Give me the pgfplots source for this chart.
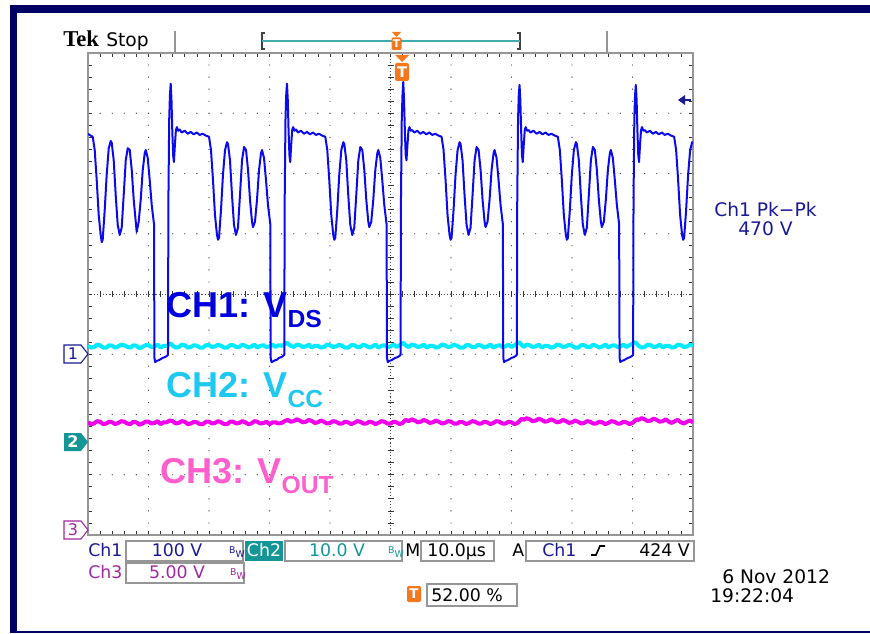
\documentclass[border=0pt]{standalone}
\usepackage{pgfplots}
\pgfplotsset{compat=1.18}
\usepackage{fontspec}
\setmainfont{DejaVu Sans}
\newfontfamily\tekfont{Liberation Serif}
\newfontfamily\arialfont{Liberation Sans}
\definecolor{navyb}{RGB}{0,0,100}
\definecolor{tekblue}{RGB}{25,25,150}
\definecolor{chone}{RGB}{10,10,235}
\definecolor{chtwo}{RGB}{0,235,255}
\definecolor{chthree}{RGB}{240,0,235}
\definecolor{lblone}{RGB}{0,0,220}
\definecolor{lbltwo}{RGB}{30,200,240}
\definecolor{lblthree}{RGB}{255,95,205}
\definecolor{tekteal}{RGB}{20,150,150}
\definecolor{tekpurple}{RGB}{160,40,160}
\definecolor{tekorange}{RGB}{245,120,30}
\definecolor{gratgray}{RGB}{150,150,150}
\begin{document}
\begin{tikzpicture}
\begin{scope}[x=0.75pt,y=-0.75pt]
\path[use as bounding box] (0,0) rectangle (870,634);
% outer frame
\fill[navyb] (10,5) rectangle (870,13);
\fill[navyb] (10,5) rectangle (17,633);
\fill[navyb] (10,631) rectangle (870,633);
% graticule dotted grid
\foreach \i in {1,2,3,4,6,7,8,9} {
  \foreach \j in {1,...,39} {
    \fill[black!70] ({88+60.5*\i},{53+12.05*\j}) circle (0.5pt);
  }
}
\foreach \i in {1,2,3,5,6,7} {
  \foreach \j in {1,...,49} {
    \fill[black!70] ({88+12.1*\j},{53+60.25*\i}) circle (0.5pt);
  }
}
% centre lines
\draw[black!70, line width=0.6pt, dash pattern=on 0.8pt off 1.5pt] (88,294)--(693,294);
\draw[black!70, line width=0.6pt, dash pattern=on 0.8pt off 1.5pt] (390.5,53)--(390.5,535);
\foreach \j in {1,...,49} {
  \draw[black!80, line width=0.6pt] ({88+12.1*\j},291)--({88+12.1*\j},297);
  \draw[black!80, line width=0.6pt] ({88+12.1*\j},53)--({88+12.1*\j},57);
  \draw[black!80, line width=0.6pt] ({88+12.1*\j},535)--({88+12.1*\j},531);
}
\foreach \j in {1,...,39} {
  \draw[black!80, line width=0.6pt] (387.5,{53+12.05*\j})--(393.5,{53+12.05*\j});
  \draw[black!80, line width=0.6pt] (88,{53+12.05*\j})--(92,{53+12.05*\j});
  \draw[black!80, line width=0.6pt] (693,{53+12.05*\j})--(689,{53+12.05*\j});
}
\draw[gratgray, line width=2.2pt] (88,53) rectangle (693,535);
\end{scope}

\begin{axis}[at={(66pt,-401.25pt)}, anchor=south west,
  width=453.75pt, height=361.5pt, scale only axis,
  xmin=0, xmax=100, ymin=-4, ymax=4, hide axis, clip=true]
% CH3 (V_OUT)
\addplot[chthree, line width=3pt, line join=round] coordinates {
(0,-2.13)(0.5,-2.16)(1,-2.15)(1.5,-2.11)(2,-2.12)(2.5,-2.16)(3,-2.15)(3.5,-2.12)(4,-2.13)(4.5,-2.16)(5,-2.14)(5.5,-2.11)(6,-2.12)(6.5,-2.15)(7,-2.16)(7.5,-2.12)(8,-2.13)(8.5,-2.17)(9,-2.15)(9.5,-2.12)(10,-2.12)(10.5,-2.15)(11,-2.14)(11.5,-2.11)(12,-2.16)(12.5,-2.13)(13,-2.13)(13.5,-2.10)(14,-2.11)(14.5,-2.15)(15,-2.14)(15.5,-2.11)(16,-2.12)(16.5,-2.16)(17,-2.15)(17.5,-2.12)(18,-2.13)(18.5,-2.16)(19,-2.16)(19.5,-2.12)(20,-2.12)(20.5,-2.15)(21,-2.14)(21.5,-2.11)(22,-2.13)(22.5,-2.16)(23,-2.16)(23.5,-2.12)(24,-2.12)(24.5,-2.15)(25,-2.14)(25.5,-2.11)(26,-2.13)(26.5,-2.16)(27,-2.15)(27.5,-2.11)(28,-2.12)(28.5,-2.15)(29,-2.14)(29.5,-2.12)(30,-2.16)(30.5,-2.13)(31,-2.13)(31.5,-2.15)(32,-2.14)(32.5,-2.11)(33,-2.09)(33.5,-2.12)(34,-2.11)(34.5,-2.08)(35,-2.10)(35.5,-2.13)(36,-2.12)(36.5,-2.09)(37,-2.11)(37.5,-2.14)(38,-2.13)(38.5,-2.10)(39,-2.12)(39.5,-2.15)(40,-2.14)(40.5,-2.11)(41,-2.12)(41.5,-2.15)(42,-2.15)(42.5,-2.12)(43,-2.13)(43.5,-2.16)(44,-2.14)(44.5,-2.11)(45,-2.12)(45.5,-2.15)(46,-2.15)(46.5,-2.12)(47,-2.13)(47.5,-2.16)(48,-2.14)(48.5,-2.11)(49,-2.12)(49.5,-2.15)(50,-2.15)(50.5,-2.12)(51,-2.13)(51.5,-2.16)(52,-2.14)(52.5,-2.09)(53,-2.11)(53.5,-2.08)(54,-2.10)(54.5,-2.13)(55,-2.12)(55.5,-2.09)(56,-2.11)(56.5,-2.14)(57,-2.13)(57.5,-2.10)(58,-2.12)(58.5,-2.15)(59,-2.14)(59.5,-2.11)(60,-2.12)(60.5,-2.15)(61,-2.15)(61.5,-2.12)(62,-2.13)(62.5,-2.16)(63,-2.14)(63.5,-2.11)(64,-2.12)(64.5,-2.15)(65,-2.15)(65.5,-2.12)(66,-2.13)(66.5,-2.16)(67,-2.14)(67.5,-2.11)(68,-2.12)(68.5,-2.15)(69,-2.15)(69.5,-2.12)(70,-2.13)(70.5,-2.16)(71,-2.14)(71.7,-2.07)(72,-2.09)(72.5,-2.06)(73,-2.08)(73.5,-2.11)(74,-2.10)(74.5,-2.07)(75,-2.09)(75.5,-2.12)(76,-2.11)(76.5,-2.08)(77,-2.10)(77.5,-2.13)(78,-2.12)(78.5,-2.09)(79,-2.11)(79.5,-2.14)(80,-2.13)(80.5,-2.10)(81,-2.12)(81.5,-2.15)(82,-2.14)(82.5,-2.11)(83,-2.12)(83.5,-2.15)(84,-2.15)(84.5,-2.12)(85,-2.13)(85.5,-2.16)(86,-2.14)(86.5,-2.11)(87,-2.12)(87.5,-2.15)(88,-2.15)(88.5,-2.12)(89,-2.13)(89.5,-2.16)(90,-2.14)(90.7,-2.08)(91,-2.09)(91.5,-2.06)(92,-2.08)(92.5,-2.11)(93,-2.10)(93.5,-2.07)(94,-2.09)(94.5,-2.12)(95,-2.11)(95.5,-2.08)(96,-2.12)(96.5,-2.14)(97,-2.11)(97.5,-2.09)(98,-2.13)(98.5,-2.15)(99,-2.12)(99.5,-2.10)(100,-2.13)
};
% CH2 (V_CC)
\addplot[chtwo, line width=3pt, line join=round] coordinates {
(0,-0.86)(0.5,-0.89)(1,-0.88)(1.5,-0.84)(2,-0.85)(2.5,-0.89)(3,-0.89)(3.5,-0.85)(4,-0.86)(4.5,-0.89)(5,-0.87)(5.5,-0.84)(6,-0.85)(6.5,-0.88)(7,-0.89)(7.5,-0.85)(8,-0.86)(8.5,-0.90)(9,-0.88)(9.5,-0.85)(10,-0.85)(10.5,-0.88)(11,-0.87)(11.5,-0.84)(12,-0.89)(12.5,-0.86)(13,-0.86)(13.7,-0.82)(14,-0.86)(14.5,-0.89)(15,-0.88)(15.5,-0.84)(16,-0.85)(16.5,-0.89)(17,-0.88)(17.5,-0.85)(18,-0.86)(18.5,-0.89)(19,-0.89)(19.5,-0.85)(20,-0.85)(20.5,-0.88)(21,-0.87)(21.5,-0.84)(22,-0.86)(22.5,-0.89)(23,-0.89)(23.5,-0.85)(24,-0.85)(24.5,-0.88)(25,-0.88)(25.5,-0.84)(26,-0.86)(26.5,-0.89)(27,-0.87)(27.5,-0.84)(28,-0.89)(28.5,-0.86)(29,-0.85)(29.5,-0.88)(30,-0.87)(30.5,-0.84)(31,-0.88)(31.5,-0.85)(32,-0.86)(32.9,-0.81)(33.5,-0.86)(34,-0.88)(34.5,-0.84)(35,-0.85)(35.5,-0.88)(36,-0.87)(36.5,-0.84)(37,-0.89)(37.5,-0.86)(38,-0.86)(38.5,-0.89)(39,-0.88)(39.5,-0.84)(40,-0.85)(40.5,-0.88)(41,-0.87)(41.5,-0.84)(42,-0.86)(42.5,-0.89)(43,-0.89)(43.5,-0.85)(44,-0.85)(44.5,-0.88)(45,-0.88)(45.5,-0.84)(46,-0.86)(46.5,-0.89)(47,-0.87)(47.5,-0.84)(48,-0.89)(48.5,-0.86)(49,-0.85)(49.5,-0.88)(50,-0.87)(50.5,-0.84)(51,-0.88)(51.5,-0.85)(52.1,-0.81)(52.6,-0.86)(53,-0.88)(53.5,-0.84)(54,-0.85)(54.5,-0.88)(55,-0.87)(55.5,-0.84)(56,-0.89)(56.5,-0.86)(57,-0.86)(57.5,-0.89)(58,-0.88)(58.5,-0.84)(59,-0.85)(59.5,-0.88)(60,-0.87)(60.5,-0.84)(61,-0.86)(61.5,-0.89)(62,-0.89)(62.5,-0.85)(63,-0.85)(63.5,-0.88)(64,-0.88)(64.5,-0.84)(65,-0.86)(65.5,-0.89)(66,-0.87)(66.5,-0.84)(67,-0.89)(67.5,-0.86)(68,-0.85)(68.5,-0.88)(69,-0.87)(69.5,-0.84)(70,-0.88)(70.5,-0.85)(71.3,-0.80)(71.8,-0.86)(72,-0.88)(72.5,-0.84)(73,-0.85)(73.5,-0.88)(74,-0.87)(74.5,-0.84)(75,-0.89)(75.5,-0.86)(76,-0.86)(76.5,-0.89)(77,-0.88)(77.5,-0.84)(78,-0.85)(78.5,-0.88)(79,-0.87)(79.5,-0.84)(80,-0.86)(80.5,-0.89)(81,-0.89)(81.5,-0.85)(82,-0.85)(82.5,-0.88)(83,-0.88)(83.5,-0.84)(84,-0.86)(84.5,-0.89)(85,-0.87)(85.5,-0.84)(86,-0.89)(86.5,-0.86)(87,-0.85)(87.5,-0.88)(88,-0.87)(88.5,-0.84)(89,-0.88)(89.5,-0.85)(90.5,-0.80)(91,-0.86)(91.5,-0.89)(92,-0.88)(92.5,-0.84)(93,-0.85)(93.5,-0.88)(94,-0.87)(94.5,-0.84)(95,-0.89)(95.5,-0.86)(96,-0.86)(96.5,-0.89)(97,-0.88)(97.5,-0.84)(98,-0.85)(98.5,-0.88)(99,-0.87)(99.5,-0.84)(100,-0.86)
};
% CH1 (V_DS)
\addplot[chone, line width=1.5pt, line join=round] coordinates {
(0,2.66)(0.24,2.64)(0.78,2.61)(1.11,2.39)(1.44,1.89)(1.77,1.31)(2.10,0.98)(2.27,0.86)(2.43,0.90)(2.76,1.39)(3.09,1.98)(3.43,2.42)(3.76,2.54)(3.92,2.51)(4.25,2.22)(4.58,1.64)(4.91,1.15)(5.24,0.98)(5.57,1.10)(5.90,1.64)(6.24,2.22)(6.57,2.42)(6.90,2.39)(7.23,2.06)(7.56,1.56)(7.89,1.20)(8.05,1.03)(8.38,1.20)(8.71,1.56)(9.05,2.06)(9.38,2.34)(9.54,2.39)(9.87,2.26)(10.20,1.89)(10.53,1.48)(10.86,1.20)(10.91,1.16)
(10.98,-1.06)(11.11,-1.13)(11.36,-1.11)(11.69,-1.10)(12.02,-1.08)(12.35,-1.06)(12.68,-1.05)(13.01,-1.03)(13.22,-1.01)(13.29,1.56)(13.42,2.89)(13.54,3.30)(13.67,3.49)(13.80,3.22)(13.93,2.72)(14.07,2.31)(14.20,2.19)(14.36,2.47)(14.53,2.72)(14.69,2.77)(14.91,2.71)(15.16,2.73)(15.49,2.68)(15.98,2.71)(16.48,2.66)(16.98,2.69)(17.47,2.65)(17.97,2.68)(18.46,2.64)(18.96,2.66)(19.46,2.63)(20.00,2.61)(20.33,2.39)(20.66,1.89)(20.99,1.31)(21.32,0.98)(21.49,0.90)(21.65,0.93)(21.98,1.39)(22.31,1.98)(22.65,2.39)(22.98,2.52)(23.14,2.49)(23.47,2.22)(23.80,1.64)(24.13,1.15)(24.46,0.98)(24.79,1.10)(25.12,1.64)(25.46,2.22)(25.79,2.44)(26.12,2.39)(26.45,2.06)(26.78,1.56)(27.11,1.20)(27.27,1.11)(27.60,1.20)(27.93,1.56)(28.27,2.06)(28.60,2.34)(28.76,2.39)(29.09,2.26)(29.42,1.89)(29.75,1.48)(30.08,1.20)(30.13,1.16)
(30.20,-1.06)(30.33,-1.13)(30.58,-1.12)(30.91,-1.10)(31.24,-1.09)(31.57,-1.06)(31.90,-1.05)(32.23,-1.03)(32.44,-1.01)(32.51,1.56)(32.64,2.89)(32.76,3.30)(32.89,3.49)(33.02,3.22)(33.15,2.72)(33.29,2.31)(33.42,2.19)(33.58,2.47)(33.75,2.72)(33.91,2.77)(34.13,2.71)(34.38,2.73)(34.71,2.68)(35.20,2.71)(35.70,2.66)(36.20,2.69)(36.69,2.65)(37.19,2.68)(37.68,2.64)(38.18,2.66)(38.68,2.63)(39.22,2.61)(39.55,2.39)(39.88,1.89)(40.21,1.31)(40.54,0.98)(40.71,0.90)(40.87,0.93)(41.20,1.39)(41.53,1.98)(41.87,2.39)(42.20,2.52)(42.36,2.49)(42.69,2.22)(43.02,1.64)(43.35,1.15)(43.68,0.98)(44.01,1.10)(44.34,1.64)(44.68,2.22)(45.01,2.44)(45.34,2.39)(45.67,2.06)(46.00,1.56)(46.33,1.20)(46.49,1.11)(46.82,1.20)(47.15,1.56)(47.49,2.06)(47.82,2.34)(47.98,2.39)(48.31,2.26)(48.64,1.89)(48.97,1.48)(49.30,1.20)(49.35,1.16)
(49.42,-1.06)(49.55,-1.13)(49.80,-1.11)(50.13,-1.10)(50.46,-1.08)(50.79,-1.06)(51.12,-1.05)(51.45,-1.03)(51.66,-1.01)(51.73,1.56)(51.86,2.89)(51.98,3.30)(52.11,3.52)(52.24,3.22)(52.37,2.72)(52.51,2.31)(52.64,2.22)(52.80,2.47)(52.97,2.72)(53.13,2.77)(53.35,2.71)(53.60,2.72)(53.93,2.68)(54.42,2.71)(54.92,2.66)(55.42,2.69)(55.91,2.65)(56.41,2.68)(56.90,2.64)(57.40,2.66)(57.90,2.63)(58.44,2.61)(58.77,2.39)(59.10,1.89)(59.43,1.31)(59.76,0.98)(59.93,0.90)(60.09,0.93)(60.42,1.39)(60.75,1.98)(61.09,2.39)(61.42,2.52)(61.58,2.49)(61.91,2.22)(62.24,1.64)(62.57,1.15)(62.90,0.98)(63.23,1.10)(63.56,1.64)(63.90,2.22)(64.23,2.44)(64.56,2.39)(64.89,2.06)(65.22,1.56)(65.55,1.20)(65.71,1.11)(66.04,1.20)(66.37,1.56)(66.71,2.06)(67.04,2.34)(67.20,2.39)(67.53,2.26)(67.86,1.89)(68.19,1.48)(68.52,1.20)(68.57,1.16)
(68.64,-1.06)(68.77,-1.13)(69.02,-1.11)(69.35,-1.10)(69.68,-1.08)(70.01,-1.06)(70.34,-1.05)(70.67,-1.03)(70.88,-1.01)(70.95,1.56)(71.08,2.89)(71.20,3.30)(71.33,3.47)(71.46,3.22)(71.59,2.72)(71.73,2.31)(71.86,2.19)(72.02,2.47)(72.19,2.72)(72.35,2.77)(72.57,2.71)(72.82,2.72)(73.15,2.68)(73.64,2.71)(74.14,2.66)(74.64,2.69)(75.13,2.65)(75.63,2.68)(76.12,2.64)(76.62,2.66)(77.12,2.63)(77.66,2.61)(77.99,2.39)(78.32,1.89)(78.65,1.31)(78.98,0.98)(79.15,0.90)(79.31,0.93)(79.64,1.39)(79.97,1.98)(80.31,2.39)(80.64,2.52)(80.80,2.49)(81.13,2.22)(81.46,1.64)(81.79,1.15)(82.12,0.98)(82.45,1.10)(82.78,1.64)(83.12,2.22)(83.45,2.44)(83.78,2.39)(84.11,2.06)(84.44,1.56)(84.77,1.20)(84.93,1.11)(85.26,1.20)(85.59,1.56)(85.93,2.06)(86.26,2.34)(86.42,2.39)(86.75,2.26)(87.08,1.89)(87.41,1.48)(87.74,1.20)(87.79,1.16)
(87.86,-1.06)(87.99,-1.13)(88.24,-1.11)(88.57,-1.10)(88.90,-1.08)(89.23,-1.06)(89.56,-1.05)(89.89,-1.03)(90.10,-1.01)(90.17,1.56)(90.30,2.89)(90.42,3.30)(90.55,3.47)(90.68,3.22)(90.81,2.72)(90.95,2.31)(91.08,2.19)(91.24,2.47)(91.41,2.72)(91.57,2.77)(91.79,2.71)(92.04,2.72)(92.37,2.68)(92.86,2.71)(93.36,2.66)(93.86,2.69)(94.35,2.65)(94.85,2.68)(95.34,2.64)(95.84,2.66)(96.34,2.63)(96.88,2.61)(97.21,2.39)(97.54,1.89)(97.87,1.31)(98.20,0.98)(98.37,0.90)(98.53,0.93)(98.86,1.39)(99.19,1.98)(99.53,2.39)(99.86,2.52)(100,2.51)
};
\end{axis}

\begin{scope}[x=0.75pt,y=-0.75pt]
% header
\node[anchor=base west, inner sep=0] at (63,47) {\tekfont\bfseries\fontsize{17}{17}\selectfont Tek};
\node[anchor=base west, inner sep=0] at (106,47) {\fontsize{14}{14}\selectfont Stop};
\draw[gratgray, line width=1.1pt] (175,31)--(175,52);
\draw[gratgray, line width=1.1pt] (607,31)--(607,52);
\draw[black!75, line width=0.8pt] (265,33)--(262,33)--(262,49)--(265,49);
\draw[black!75, line width=0.8pt] (517,33)--(520,33)--(520,49)--(517,49);
\draw[tekteal!80, line width=1.1pt] (262,41)--(520,41);
\fill[tekorange] (392,32)--(401,32)--(396.5,37)--cycle;
\fill[tekorange, rounded corners=1pt] (391.5,37.5) rectangle (401.5,50);
\node[white, inner sep=0, font=\bfseries\fontsize{8}{8}\selectfont] at (396.5,44) {T};
% trigger marker
\fill[tekorange] (395,55)--(409,55)--(402,62)--cycle;
\fill[tekorange, rounded corners=1.5pt] (395,63) rectangle (409,81);
\node[white, inner sep=0, font=\bfseries\fontsize{11}{11}\selectfont] at (402,72) {T};
% trigger level arrow
\fill[tekblue] (678,100)--(685,95)--(685,105)--cycle;
\draw[tekblue, line width=1.5pt] (684,100)--(691,100);
% channel markers
\draw[tekblue, fill=white, line width=0.8pt] (64,345)--(81,345)--(88,354)--(81,363)--(64,363)--cycle;
\node[tekblue, inner sep=0, font=\fontsize{12}{12}\selectfont] at (73,354) {1};
\fill[tekteal] (64,433)--(81,433)--(88,442)--(81,451)--(64,451)--cycle;
\node[white, inner sep=0, font=\bfseries\fontsize{12}{12}\selectfont] at (73,442) {2};
\draw[tekpurple, fill=white, line width=0.8pt] (64,521)--(81,521)--(88,530)--(81,539)--(64,539)--cycle;
\node[tekpurple, inner sep=0, font=\fontsize{12}{12}\selectfont] at (73,530) {3};
% channel labels
\node[anchor=base west, inner sep=0, text=lblone] at (166,317) {\arialfont\bfseries\fontsize{27}{27}\selectfont CH1: V\raisebox{-7.5pt}{\fontsize{18.5}{18.5}\selectfont DS}};
\node[anchor=base west, inner sep=0, text=lbltwo] at (166,397) {\arialfont\bfseries\fontsize{27}{27}\selectfont CH2: V\raisebox{-7.5pt}{\fontsize{18.5}{18.5}\selectfont CC}};
\node[anchor=base west, inner sep=0, text=lblthree] at (160,483) {\arialfont\bfseries\fontsize{27}{27}\selectfont CH3: V\raisebox{-7.5pt}{\fontsize{18.5}{18.5}\selectfont OUT}};
% measurement
\node[anchor=base west, inner sep=0, text=tekblue] at (714,217) {\fontsize{14}{14}\selectfont Ch1 Pk−Pk};
\node[anchor=base west, inner sep=0, text=tekblue] at (738,236) {\fontsize{14}{14}\selectfont 470 V};
% bottom status bar
\draw[gratgray, line width=0.8pt] (126,541) rectangle (243,561);
\draw[gratgray, line width=0.8pt] (285,541) rectangle (402,561);
\draw[gratgray, line width=0.8pt] (421,541) rectangle (494,561);
\draw[gratgray, line width=0.8pt] (526,541) rectangle (694,561);
\draw[gratgray, line width=0.8pt] (126,563) rectangle (244,583);
\draw[gratgray, line width=0.8pt] (427,584) rectangle (517,606);
\fill[tekteal] (245,541) rectangle (283,561);
\node[anchor=base west, inner sep=0, text=tekblue] at (88,556) {\fontsize{13}{13}\selectfont Ch1};
\node[anchor=base, inner sep=0, text=tekblue] at (177,556) {\fontsize{13}{13}\selectfont 100 V};
\node[inner sep=0, text=tekblue] at (237,552) {\fontsize{7}{7}\selectfont B\raisebox{-2.5pt}{W}};
\node[anchor=base, inner sep=0, text=white] at (264,556) {\fontsize{13}{13}\selectfont Ch2};
\node[anchor=base, inner sep=0, text=tekteal] at (337,556) {\fontsize{13}{13}\selectfont 10.0 V};
\node[inner sep=0, text=tekteal] at (396,552) {\fontsize{7}{7}\selectfont B\raisebox{-2.5pt}{W}};
\node[anchor=base west, inner sep=0] at (405,556) {\fontsize{13}{13}\selectfont M};
\node[anchor=base west, inner sep=0] at (427,556) {\fontsize{13}{13}\selectfont 10.0µs};
\node[anchor=base west, inner sep=0] at (512,556) {\fontsize{13}{13}\selectfont A};
\node[anchor=base west, inner sep=0, text=tekblue] at (542,556) {\fontsize{13}{13}\selectfont Ch1};
\draw[black, line width=1.2pt] (591,555)--(596,555)--(600,546)--(605,546);
\node[anchor=base east, inner sep=0] at (690,556) {\fontsize{13}{13}\selectfont 424 V};
\node[anchor=base west, inner sep=0, text=tekpurple] at (88,578) {\fontsize{13}{13}\selectfont Ch3};
\node[anchor=base, inner sep=0, text=tekpurple] at (177,578) {\fontsize{13}{13}\selectfont 5.00 V};
\node[inner sep=0, text=tekpurple] at (238,574) {\fontsize{7}{7}\selectfont B\raisebox{-2.5pt}{W}};
\fill[tekorange, rounded corners=1pt] (407,586) rectangle (421,602);
\node[white, inner sep=0, font=\bfseries\fontsize{10}{10}\selectfont] at (414,594) {T};
\node[anchor=base west, inner sep=0] at (431,601) {\fontsize{13}{13}\selectfont 52.00 \%};
\node[anchor=base west, inner sep=0] at (722,583) {\fontsize{14}{14}\selectfont 6 Nov 2012};
\node[anchor=base west, inner sep=0] at (710,602) {\fontsize{14}{14}\selectfont 19:22:04};
\end{scope}
\end{tikzpicture}
\end{document}
